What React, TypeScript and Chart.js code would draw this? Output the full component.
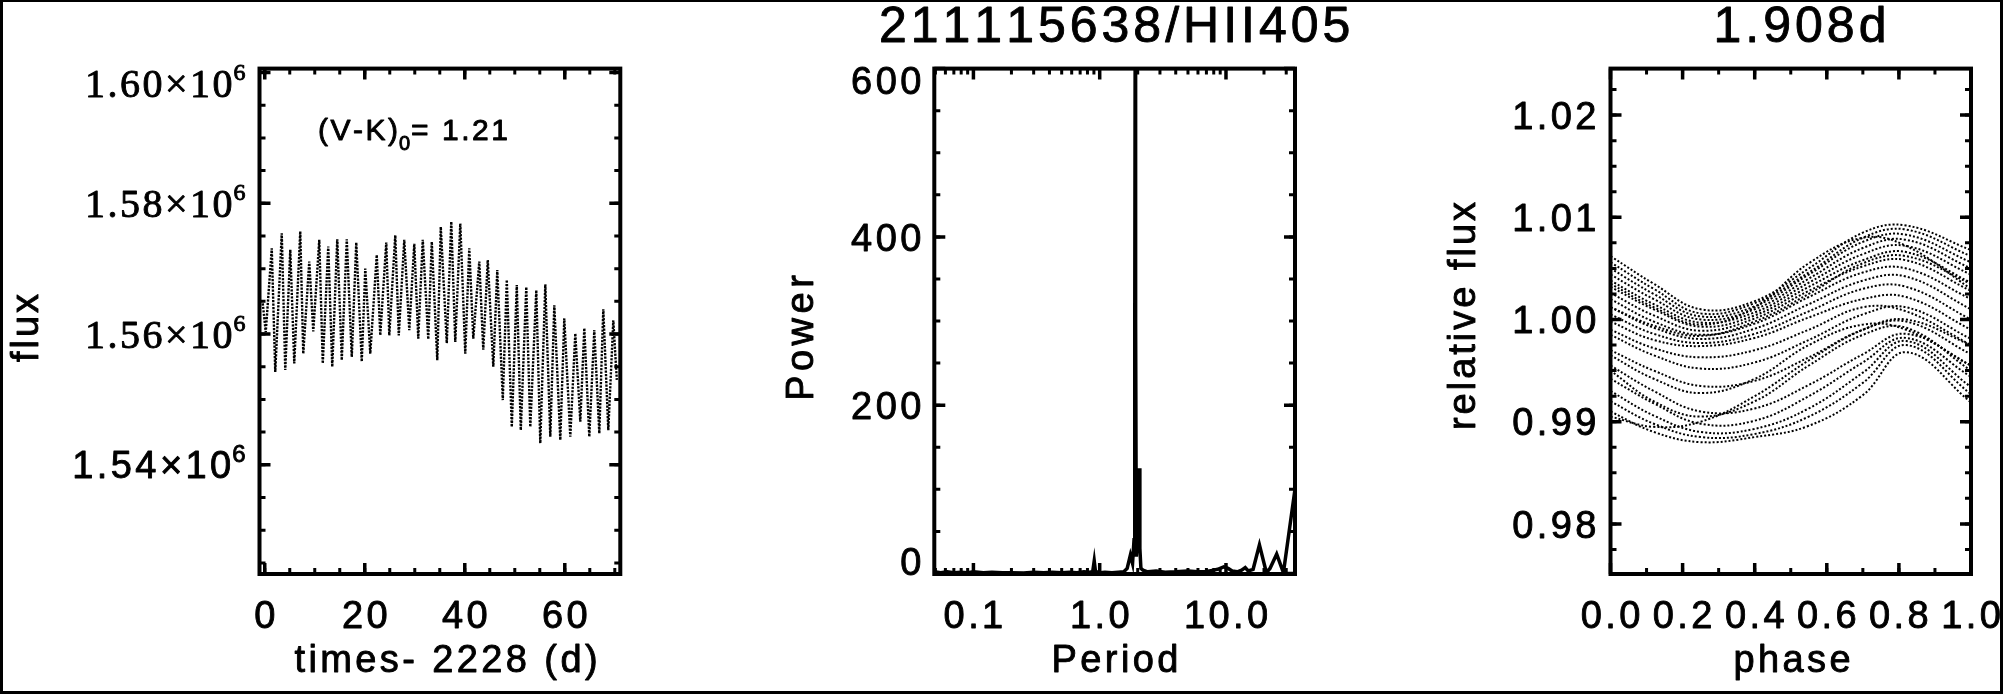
import React, { useEffect, useRef } from "react";
import { Chart, registerables } from "chart.js";

Chart.register(...registerables);

// ---------- Panel 1: light curve, turning points of each rotation cycle ----------
const lcTime = [
  -0.4, 0.2, 1.4, 2.1, 3.4, 4.1, 5.1, 5.9, 7.1, 7.7,
  8.9, 9.7, 10.9, 11.6, 12.7, 13.5, 14.5, 15.4, 16.4, 17.4,
  18.3, 19.4, 20.1, 21.1, 22.4, 23.1, 24.3, 24.9, 26.1, 26.8,
  27.9, 28.9, 29.9, 30.7, 31.6, 32.7, 33.4, 34.5, 35.2, 36.4,
  37.3, 38.1, 39.1, 40.1, 40.9, 41.7, 42.9, 43.7, 44.6, 45.7,
  46.5, 47.6, 48.4, 49.4, 50.4, 51.2, 52.3, 53.1, 54.3, 55.1,
  56.1, 57.1, 57.9, 59.1, 59.9, 61.1, 62.1, 63.1, 63.9, 64.9,
  65.9, 66.9, 67.7, 68.7, 69.7, 70.4,
];
const lcFlux = [
  1564700, 1560300, 1573100, 1554200, 1575400, 1554500, 1572900, 1555500, 1575700, 1557000,
  1571100, 1560400, 1574400, 1555500, 1573400, 1555000, 1574500, 1556000, 1574500, 1556500,
  1574000, 1555800, 1570000, 1557000, 1572100, 1559800, 1574000, 1559800, 1575100, 1559800,
  1574400, 1560600, 1573800, 1559300, 1574400, 1559200, 1574100, 1556000, 1576400, 1558600,
  1577200, 1558800, 1576900, 1557000, 1573100, 1559300, 1571100, 1557600, 1571300, 1555000,
  1569800, 1549900, 1568300, 1545800, 1567500, 1545300, 1567200, 1545800, 1566700, 1543300,
  1567600, 1544300, 1564400, 1543800, 1562400, 1544300, 1560100, 1546600, 1560900, 1544300,
  1560600, 1544800, 1563800, 1545300, 1562100, 1553000,
];

// ---------- Panel 2: periodogram ----------
const pgPeriod = [
  0.049, 0.055, 0.062, 0.07, 0.08, 0.09, 0.1, 0.12, 0.14, 0.17,
  0.2, 0.25, 0.3, 0.36, 0.42, 0.5, 0.58, 0.66, 0.75, 0.83,
  0.88, 0.905, 0.925, 0.95, 1.0, 1.1, 1.25, 1.4, 1.55, 1.65,
  1.75, 1.82, 1.87, 1.895, 1.908, 1.925, 1.95, 1.99, 2.05, 2.08,
  2.12, 2.2, 2.4, 2.8, 3.3, 4.0, 5.0, 6.0, 7.0, 8.0,
  8.6, 9.6, 10.4, 11.2, 12.3, 13.3, 14.2, 15.0, 16.4, 18.4,
  20.9, 22.3, 25.2, 28.5, 35.2,
];
const pgPower = [
  2, 1, 2, 1, 1.5, 1, 2, 1, 1.5, 1,
  1, 0.5, 1.5, 1, 1.5, 1, 1.5, 1, 2, 1.5,
  2, 15, 3, 2, 1, 1.5, 1, 1.5, 2, 6,
  22, 12, 40, 300, 605, 300, 20, 40, 125, 30,
  6, 4, 2, 3, 1.5, 2, 3, 2, 2.5, 4,
  5, 8, 6, 3, 2, 4, 7, 3, 5, 34,
  1, 6, 23, 1, 100,
];

// ---------- Panel 3: phase-folded light curve, one row per rotation cycle ----------
const phaseNodes = [0, 0.12, 0.25, 0.4, 0.55, 0.7, 0.82, 1.0];
const phaseTracks = [
  [1.0062, 1.0035, 1.001, 1.0018, 1.005, 1.0085, 1.0092, 1.0068],
  [1.0056, 1.003, 1.0006, 1.0016, 1.0046, 1.008, 1.0088, 1.0062],
  [1.005, 1.0025, 1.0003, 1.0013, 1.0044, 1.0076, 1.0083, 1.0056],
  [1.0044, 1.002, 1.0, 1.001, 1.004, 1.007, 1.0078, 1.005],
  [1.0035, 1.0012, 0.9995, 1.0012, 1.0055, 1.008, 1.0072, 1.003],
  [1.0038, 1.0015, 0.9997, 1.0007, 1.0036, 1.0064, 1.0072, 1.0044],
  [1.0032, 1.001, 0.9993, 1.0004, 1.0032, 1.0058, 1.0066, 1.0036],
  [1.0026, 1.0004, 0.9989, 1.0001, 1.0028, 1.0052, 1.0058, 1.0028],
  [1.0012, 0.9994, 0.9984, 0.9998, 1.0025, 1.0055, 1.0062, 1.0035],
  [1.002, 0.9998, 0.9985, 0.9996, 1.0022, 1.0046, 1.005, 1.002],
  [1.0012, 0.9992, 0.9981, 0.9991, 1.0015, 1.0038, 1.0042, 1.001],
  [1.0005, 0.9986, 0.9977, 0.9986, 1.0008, 1.003, 1.0032, 1.0],
  [0.9998, 0.998, 0.9974, 0.9982, 1.0002, 1.002, 1.0022, 0.999],
  [0.999, 0.9972, 0.9963, 0.997, 0.999, 1.0012, 1.0008, 0.9975],
  [0.9985, 0.9965, 0.9952, 0.9958, 0.998, 1.0005, 1.0012, 0.9981],
  [0.997, 0.995, 0.9935, 0.994, 0.9963, 0.999, 0.9998, 0.9966],
  [0.9965, 0.9942, 0.9928, 0.9942, 0.9975, 0.9995, 0.999, 0.9955],
  [0.9955, 0.993, 0.991, 0.9913, 0.9936, 0.9966, 0.9986, 0.9955],
  [0.995, 0.992, 0.9905, 0.992, 0.9955, 0.9985, 0.9992, 0.995],
  [0.9942, 0.9918, 0.9898, 0.9901, 0.9925, 0.9958, 0.9982, 0.9944],
  [0.993, 0.9906, 0.989, 0.9893, 0.9913, 0.9948, 0.9979, 0.9934],
  [0.992, 0.9898, 0.9885, 0.9888, 0.9905, 0.9938, 0.9975, 0.9927],
  [0.9905, 0.9895, 0.99, 0.9925, 0.996, 0.999, 1.0, 0.9975],
  [0.991, 0.989, 0.988, 0.9885, 0.9896, 0.9926, 0.9968, 0.9919],
];

// ---------- Texts and ticks ----------
const titleStar = "211115638/HII405";
const titlePeriod = "1.908d";
const noteParts = ["(V-K)", "0", "= 1.21"];
const p1XTicks = [0, 20, 40, 60];
const p1YTicks = [1.54e6, 1.56e6, 1.58e6, 1.6e6];
const p1YTickLabels = ["1.54", "1.56", "1.58", "1.60"];
const p2XTicks = [0.1, 1, 10];
const p2XTickLabels = ["0.1", "1.0", "10.0"];
const p2YTicks = [0, 200, 400, 600];
const p3XTicks = [0, 0.2, 0.4, 0.6, 0.8, 1.0];
const p3XTickLabels = ["0.0", "0.2", "0.4", "0.6", "0.8", "1.0"];
const p3YTicks = [0.98, 0.99, 1.0, 1.01, 1.02];
const p3YTickLabels = ["0.98", "0.99", "1.00", "1.01", "1.02"];

// ---------- Layout ----------
const H = 694;
const SANS = '"Liberation Sans", Arial, Helvetica, sans-serif';
const SERIF = '"Liberation Serif", "Times New Roman", Times, serif';
const TICK_PX = 38;
const TICK_SP = 3.4;
const XLAB_BASE = 628;
const XTITLE_BASE = 672;
const EMB = 0.9;

type Area = { l: number; r: number; t: number; b: number };
const C1 = { x: 0, w: 700 };
const C2 = { x: 700, w: 660 };
const C3 = { x: 1360, w: 645 };
const A1: Area = { l: 259.5, r: 620.3, t: 68.6, b: 574 };
const A2: Area = { l: 934.3, r: 1295, t: 68.6, b: 574 };
const A3: Area = { l: 1610.5, r: 1971, t: 68.6, b: 574 };

function pad(c: { x: number; w: number }, a: Area) {
  return { left: a.l - c.x, right: c.x + c.w - a.r, top: a.t, bottom: H - a.b };
}

function range(a: number, b: number, step: number) {
  const out: number[] = [];
  for (let i = 0; a + i * step <= b + step * 1e-6; i++) out.push(a + i * step);
  return out;
}

function textW(ctx: CanvasRenderingContext2D, s: string, sp: number) {
  const chars = Array.from(s);
  let w = 0;
  for (const c of chars) w += ctx.measureText(c).width;
  return w + sp * Math.max(0, chars.length - 1);
}

function spaced(
  ctx: CanvasRenderingContext2D,
  s: string,
  x: number,
  y: number,
  align: "left" | "center" | "right",
  sp: number
) {
  const w = textW(ctx, s, sp);
  let cx = align === "left" ? x : align === "center" ? x - w / 2 : x - w;
  ctx.textAlign = "left";
  ctx.textBaseline = "alphabetic";
  ctx.strokeStyle = "#000";
  ctx.lineWidth = EMB;
  ctx.lineJoin = "round";
  for (const c of Array.from(s)) {
    ctx.fillText(c, cx, y);
    ctx.strokeText(c, cx, y);
    cx += ctx.measureText(c).width + sp;
  }
  return w;
}

function spacedUp(ctx: CanvasRenderingContext2D, s: string, x: number, cy: number, sp: number) {
  ctx.save();
  ctx.translate(x, cy);
  ctx.rotate(-Math.PI / 2);
  spaced(ctx, s, 0, 0, "center", sp);
  ctx.restore();
}

function frameTicks(
  ctx: CanvasRenderingContext2D,
  ca: any,
  xMaj: number[],
  xMin: number[],
  yMaj: number[],
  yMin: number[]
) {
  ctx.save();
  ctx.strokeStyle = "#000";
  ctx.lineCap = "butt";
  const inX = (p: number) => p >= ca.left - 0.5 && p <= ca.right + 0.5;
  const inY = (p: number) => p >= ca.top - 0.5 && p <= ca.bottom + 0.5;
  const tickSet = (xs: number[], ys: number[], len: number, lw: number) => {
    ctx.lineWidth = lw;
    ctx.beginPath();
    xs.filter(inX).forEach((p) => {
      ctx.moveTo(p, ca.bottom);
      ctx.lineTo(p, ca.bottom - len);
      ctx.moveTo(p, ca.top);
      ctx.lineTo(p, ca.top + len);
    });
    ys.filter(inY).forEach((p) => {
      ctx.moveTo(ca.left, p);
      ctx.lineTo(ca.left + len, p);
      ctx.moveTo(ca.right, p);
      ctx.lineTo(ca.right - len, p);
    });
    ctx.stroke();
  };
  tickSet(xMin, yMin, 6, 3);
  tickSet(xMaj, yMaj, 11, 3.5);
  ctx.lineWidth = 4;
  ctx.strokeRect(ca.left, ca.top, ca.right - ca.left, ca.bottom - ca.top);
  ctx.restore();
}

function decor(draw: (chart: any) => void) {
  return {
    id: "idlDecor",
    afterDraw(chart: any) {
      const ctx = chart.ctx as CanvasRenderingContext2D;
      ctx.save();
      ctx.fillStyle = "#000";
      draw(chart);
      ctx.restore();
    },
  };
}

function baseOptions(c: { x: number; w: number }, a: Area, scales: any) {
  return {
    responsive: false,
    animation: false as const,
    devicePixelRatio: 1,
    layout: { padding: pad(c, a) },
    plugins: { legend: { display: false }, tooltip: { enabled: false }, title: { display: false } },
    scales,
  };
}

// ---------- Panel builders ----------
function panel1(canvas: HTMLCanvasElement) {
  const draw = (chart: any) => {
    const ctx = chart.ctx as CanvasRenderingContext2D;
    const ca = chart.chartArea;
    const xs = chart.scales.x;
    const ys = chart.scales.y;
    const ox = C1.x;
    frameTicks(
      ctx,
      ca,
      p1XTicks.map((v) => xs.getPixelForValue(v)),
      range(-5, 75, 5).map((v) => xs.getPixelForValue(v)),
      p1YTicks.map((v) => ys.getPixelForValue(v)),
      range(1.52e6, 1.605e6, 5000).map((v) => ys.getPixelForValue(v))
    );
    // y tick labels (the lowest one is set in the sans face, as in the original)
    p1YTicks.forEach((v, i) => {
      const serif = i > 0;
      const fam = serif ? SERIF : SANS;
      const size = serif ? 40 : TICK_PX;
      let y = ys.getPixelForValue(v);
      if (i === p1YTicks.length - 1) y += 11;
      const base = y + size * (serif ? 0.34 : 0.358);
      const right = ca.left - 14;
      ctx.font = `24px ${fam}`;
      const sw = ctx.measureText("6").width;
      spaced(ctx, "6", right - sw, base - size * 0.42, "left", 0);
      ctx.font = `${size}px ${fam}`;
      spaced(ctx, p1YTickLabels[i] + "\u00d710", right - sw - 1, base, "right", serif ? 2.5 : TICK_SP);
    });
    ctx.font = `${TICK_PX}px ${SANS}`;
    p1XTicks.forEach((v) => spaced(ctx, String(v), xs.getPixelForValue(v), XLAB_BASE, "center", TICK_SP));
    spaced(ctx, "times- 2228 (d)", 446 - ox, XTITLE_BASE, "center", TICK_SP);
    spacedUp(ctx, "flux", 38 - ox, 328, 3);
    // colour annotation
    let x = 318 - ox;
    ctx.font = `30px ${SANS}`;
    x += spaced(ctx, noteParts[0], x, 140, "left", 2.5) + 1;
    ctx.font = `20px ${SANS}`;
    x += spaced(ctx, noteParts[1], x, 150, "left", 0) + 1;
    ctx.font = `30px ${SANS}`;
    spaced(ctx, noteParts[2], x, 140, "left", 2.5);
  };
  return new Chart(canvas, {
    type: "line",
    data: {
      datasets: [
        {
          data: lcTime.map((t, i) => ({ x: t, y: lcFlux[i] })),
          borderColor: "#000",
          borderWidth: 2.4,
          borderDash: [2.2, 1.3],
          pointRadius: 0,
          tension: 0,
        },
      ],
    },
    options: baseOptions(C1, A1, {
      x: { type: "linear", min: -1.05, max: 71.1, display: false },
      y: { type: "linear", min: 1523300, max: 1600600, display: false },
    }) as any,
    plugins: [decor(draw)],
  });
}

function panel2(canvas: HTMLCanvasElement) {
  const draw = (chart: any) => {
    const ctx = chart.ctx as CanvasRenderingContext2D;
    const ca = chart.chartArea;
    const xs = chart.scales.x;
    const ys = chart.scales.y;
    const ox = C2.x;
    const logMinor: number[] = [];
    [0.01, 0.1, 1, 10].forEach((d) => range(2, 9, 1).forEach((k) => logMinor.push(k * d)));
    frameTicks(
      ctx,
      ca,
      p2XTicks.map((v) => xs.getPixelForValue(v)),
      logMinor.map((v) => xs.getPixelForValue(v)),
      p2YTicks.map((v) => ys.getPixelForValue(v)),
      range(0, 600, 50).map((v) => ys.getPixelForValue(v))
    );
    ctx.font = `${TICK_PX}px ${SANS}`;
    p2YTicks.forEach((v, i) => {
      let y = ys.getPixelForValue(v);
      if (i === 0) y -= 12;
      if (i === p2YTicks.length - 1) y += 12;
      spaced(ctx, String(v), ca.left - 13, y + TICK_PX * 0.358, "right", TICK_SP);
    });
    p2XTicks.forEach((v, i) =>
      spaced(ctx, p2XTickLabels[i], xs.getPixelForValue(v), XLAB_BASE, "center", TICK_SP)
    );
    spaced(ctx, "Period", 1115 - ox, XTITLE_BASE, "center", TICK_SP);
    spacedUp(ctx, "Power", 813 - ox, 338, 4.5);
    ctx.font = `50px ${SANS}`;
    spaced(ctx, titleStar, (ca.left + ca.right) / 2, 42, "center", 4);
  };
  return new Chart(canvas, {
    type: "line",
    data: {
      datasets: [
        {
          data: pgPeriod.map((p, i) => ({ x: p, y: pgPower[i] })),
          borderColor: "#000",
          borderWidth: 3.5,
          pointRadius: 0,
          tension: 0,
        },
      ],
    },
    options: baseOptions(C2, A2, {
      x: { type: "logarithmic", min: 0.049, max: 35.2, display: false },
      y: { type: "linear", min: -0.6, max: 600, display: false },
    }) as any,
    plugins: [decor(draw)],
  });
}

function panel3(canvas: HTMLCanvasElement) {
  const draw = (chart: any) => {
    const ctx = chart.ctx as CanvasRenderingContext2D;
    const ca = chart.chartArea;
    const xs = chart.scales.x;
    const ys = chart.scales.y;
    const ox = C3.x;
    frameTicks(
      ctx,
      ca,
      p3XTicks.map((v) => xs.getPixelForValue(v)),
      range(0, 1, 0.1).map((v) => xs.getPixelForValue(v)),
      p3YTicks.map((v) => ys.getPixelForValue(v)),
      range(0.975, 1.025, 0.0025).map((v) => ys.getPixelForValue(v))
    );
    ctx.font = `${TICK_PX}px ${SANS}`;
    p3YTicks.forEach((v, i) =>
      spaced(ctx, p3YTickLabels[i], ca.left - 14, ys.getPixelForValue(v) + TICK_PX * 0.358, "right", TICK_SP)
    );
    p3XTicks.forEach((v, i) =>
      spaced(ctx, p3XTickLabels[i], xs.getPixelForValue(v), XLAB_BASE, "center", TICK_SP)
    );
    spaced(ctx, "phase", 1792 - ox, XTITLE_BASE, "center", TICK_SP);
    spacedUp(ctx, "relative flux", 1475 - ox, 316, 3);
    ctx.font = `50px ${SANS}`;
    spaced(ctx, titlePeriod, 1800 - ox, 42, "center", 4);
  };
  return new Chart(canvas, {
    type: "line",
    data: {
      datasets: phaseTracks.map((row) => ({
        data: phaseNodes.map((p, i) => ({ x: p, y: row[i] })),
        borderColor: "#000",
        borderWidth: 2,
        borderDash: [2, 2],
        pointRadius: 0,
        tension: 0.4,
      })),
    },
    options: baseOptions(C3, A3, {
      x: { type: "linear", min: 0, max: 1, display: false },
      y: { type: "linear", min: 0.9751, max: 1.02455, display: false },
    }) as any,
    plugins: [decor(draw)],
  });
}

export default function App() {
  const r1 = useRef<HTMLCanvasElement>(null);
  const r2 = useRef<HTMLCanvasElement>(null);
  const r3 = useRef<HTMLCanvasElement>(null);
  useEffect(() => {
    const charts = [panel1(r1.current!), panel2(r2.current!), panel3(r3.current!)];
    return () => charts.forEach((c) => c.destroy());
  }, []);
  const cs = (c: { x: number; w: number }) => ({
    position: "absolute" as const,
    left: c.x,
    top: 0,
    width: c.w,
    height: H,
    display: "block",
  });
  return (
    <div
      style={{
        position: "absolute",
        left: 0,
        top: 0,
        width: 2005,
        height: H,
        background: "#fff",
        overflow: "hidden",
      }}
    >
      <canvas ref={r1} width={C1.w} height={H} style={cs(C1)} />
      <canvas ref={r2} width={C2.w} height={H} style={cs(C2)} />
      <canvas ref={r3} width={C3.w} height={H} style={cs(C3)} />
      <div
        style={{
          position: "absolute",
          left: 0,
          top: 0,
          width: 2003,
          height: H,
          boxSizing: "border-box",
          border: "3px solid #000",
          borderTopWidth: 2,
          pointerEvents: "none",
        }}
      />
    </div>
  );
}
